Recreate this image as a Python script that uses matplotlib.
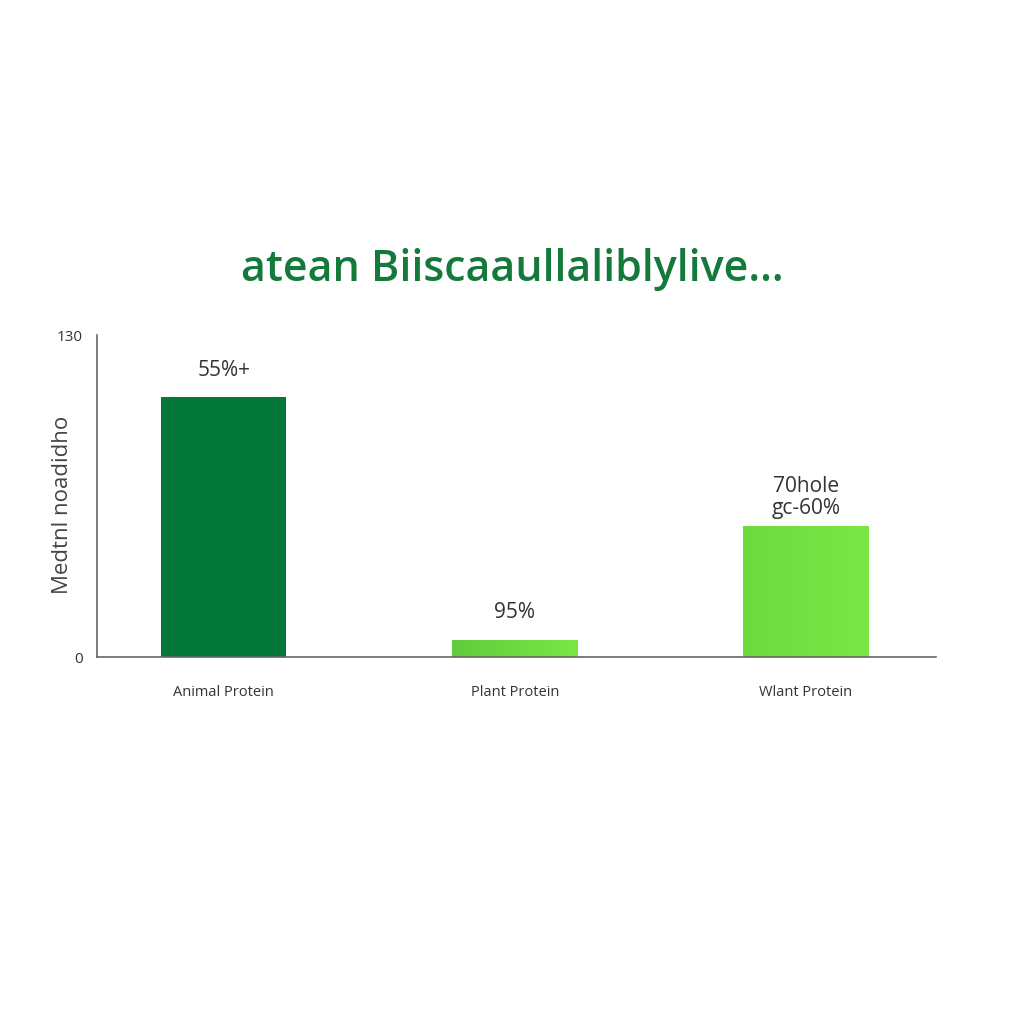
import matplotlib.pyplot as plt
import numpy as np
from matplotlib.colors import LinearSegmentedColormap

# bar chart: protein sources
categories = ["Animal Protein", "Plant Protein", "Wlant Protein"]
values = [105, 7, 53]
value_labels = ["55%+", "95%", "70hole\ngc-60%"]
# left / right colour of each bar (light bars have a soft gradient)
left_colors = ["#04773a", "#5fcd3b", "#6ddb40"]
right_colors = ["#04773a", "#7ae646", "#7ae745"]
y_ticks = [0, 130]

title = "atean Biiscaaullaliblylive..."
ylabel = "Medtnl noadidho"

plt.rcParams['font.family'] = ['Open Sans', 'DejaVu Sans']

fig = plt.figure(figsize=(10.24, 10.24), dpi=100)
ax = fig.add_axes([0.0947, 0.358, 0.819, 0.3145])

x = np.arange(len(categories))
bars = ax.bar(x, values, width=0.43, color=left_colors, zorder=2)

# horizontal gradient fill, clipped to each bar
grad = np.linspace(0, 1, 256).reshape(1, -1)
for b, c0, c1 in zip(bars, left_colors, right_colors):
    if c0 == c1:
        continue
    cmap = LinearSegmentedColormap.from_list("g", [c0, c1])
    x0, w, h = b.get_x(), b.get_width(), b.get_height()
    im = ax.imshow(grad, cmap=cmap, aspect="auto", zorder=3,
                   extent=[x0, x0 + w, 0, h], interpolation="bilinear")
    im.set_clip_path(b)

ax.set_xlim(-0.435, len(categories) - 1 + 0.445)
ax.set_ylim(0, 130)

for spine in ["top", "right"]:
    ax.spines[spine].set_visible(False)
ax.spines["left"].set_color("#666666")
ax.spines["bottom"].set_color("#666666")
ax.spines["left"].set_linewidth(1.2)
ax.spines["bottom"].set_linewidth(1.2)
ax.spines["bottom"].set_zorder(4)

ax.set_yticks(y_ticks)
ax.set_yticklabels([str(t) for t in y_ticks], fontsize=11, color="#333333")
ax.tick_params(axis="y", length=0, pad=10)
ax.set_xticks(x)
ax.set_xticklabels(categories, fontsize=10.5, color="#333333")
ax.tick_params(axis="x", length=0, pad=20)

offsets = [12, 12, 5]
for b, lab, off in zip(bars, value_labels, offsets):
    ax.annotate(lab, (b.get_x() + b.get_width() / 2, b.get_height()),
                xytext=(0, off), textcoords="offset points",
                ha="center", va="bottom", fontsize=15, color="#333333",
                linespacing=1.05)

fig.text(63 / 1024, 1 - 505 / 1024, ylabel, rotation=90, ha="center",
         va="center", fontsize=16, color="#444444")

fig.text(0.5, 0.737, title, ha="center", va="center", fontsize=31,
         fontweight="semibold", color="#147a3c")

fig.savefig("out.png", dpi=100, facecolor="white")
